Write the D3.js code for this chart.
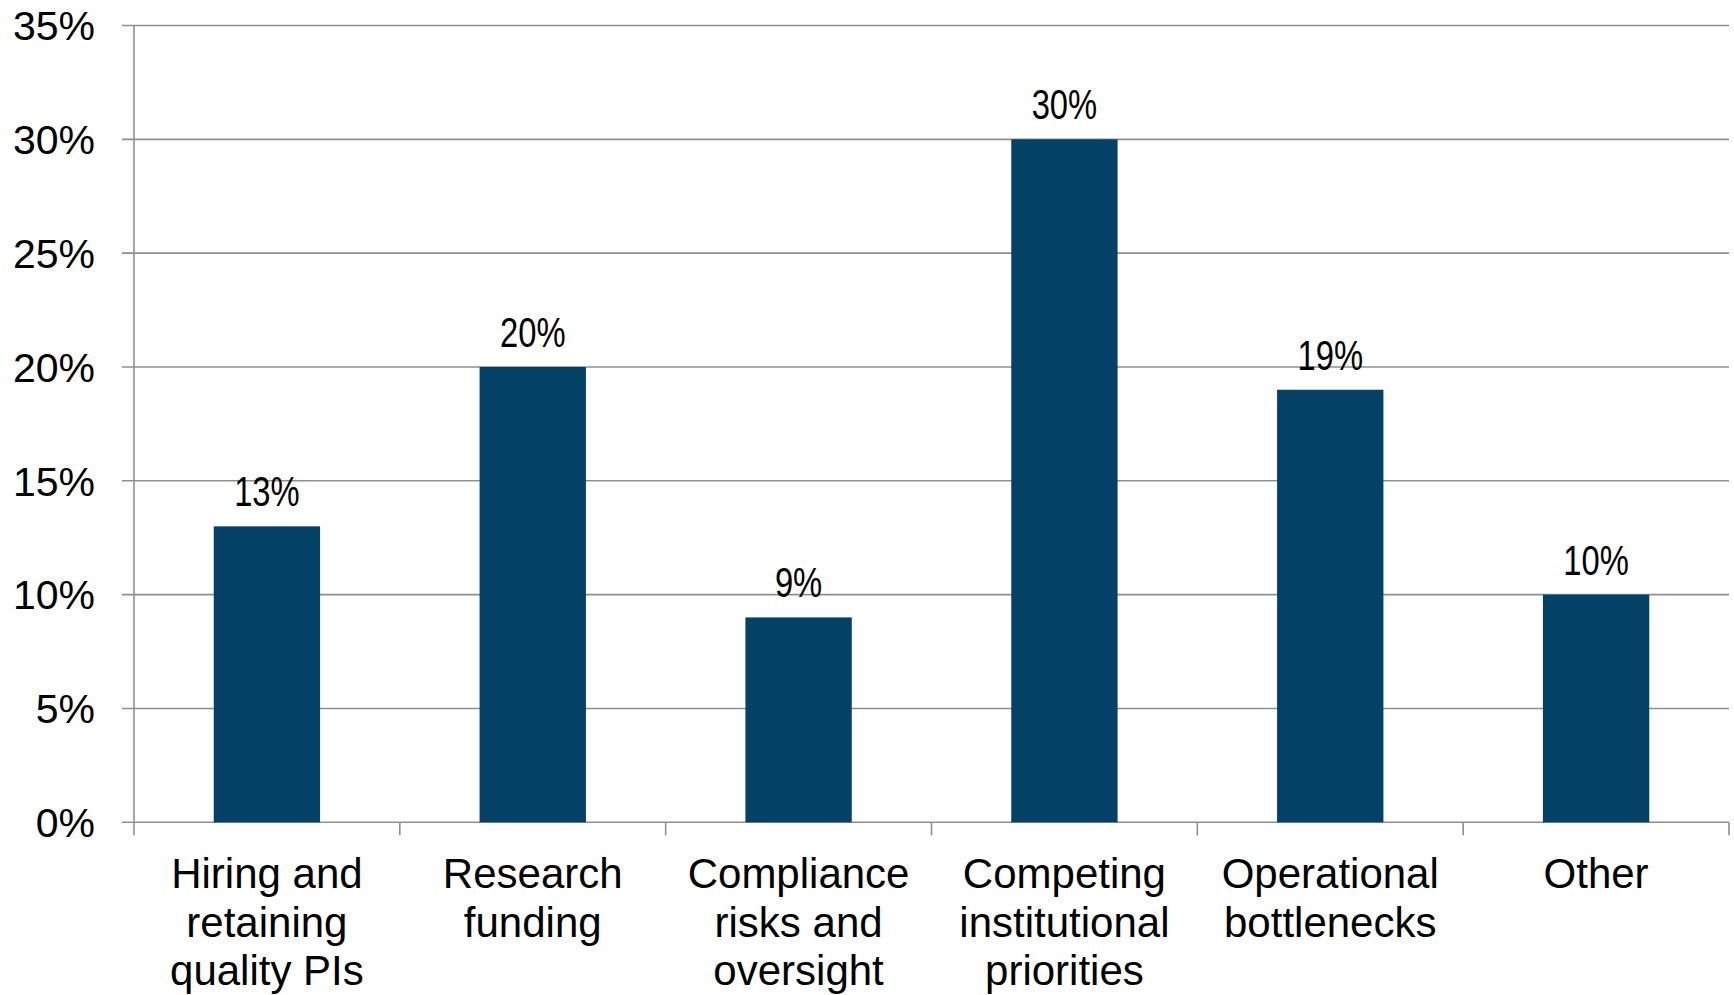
<!DOCTYPE html>
<html>
<head>
<meta charset="utf-8">
<script src="https://cdn.jsdelivr.net/npm/d3@7"></script>
<style>
  html, body { margin: 0; padding: 0; background: #fff; }
  svg { display: block; }
</style>
</head>
<body>
<svg id="chart" width="1734" height="995"></svg>
<script>
const categories = [
  ["Hiring and", "retaining", "quality PIs"],
  ["Research", "funding"],
  ["Compliance", "risks and", "oversight"],
  ["Competing", "institutional", "priorities"],
  ["Operational", "bottlenecks"],
  ["Other"]
];
const values = [0.13, 0.20, 0.09, 0.30, 0.19, 0.10];
const valueLabels = ["13%", "20%", "9%", "30%", "19%", "10%"];
const yTicks = [0, 0.05, 0.10, 0.15, 0.20, 0.25, 0.30, 0.35];

(function () {
const svg = d3.select("#chart");
const plotLeft = 134, plotRight = 1729, plotTop = 25.5, plotBottom = 822.3;
const gridColor = "#8f8f8f";
const barColor = "#034166";

const keys = categories.map((c, i) => i);
const x = d3.scaleBand().domain(keys).range([plotLeft, plotRight]).paddingInner(0.6).paddingOuter(0.3);
const xEdge = d3.scaleLinear().domain([0, categories.length]).range([plotLeft, plotRight]);
const y = d3.scaleLinear().domain([0, 0.35]).range([plotBottom, plotTop]);

// gridlines
svg.append("g").selectAll("line").data(yTicks).join("line")
  .attr("x1", plotLeft - 12).attr("x2", plotRight)
  .attr("y1", d => y(d)).attr("y2", d => y(d))
  .attr("stroke", gridColor).attr("stroke-width", 1.6);

// y axis line
svg.append("line").attr("x1", plotLeft).attr("x2", plotLeft)
  .attr("y1", plotTop).attr("y2", plotBottom + 13)
  .attr("stroke", gridColor).attr("stroke-width", 1.6);

// x ticks at category boundaries
svg.append("g").selectAll("line").data(d3.range(1, categories.length + 1)).join("line")
  .attr("x1", d => xEdge(d)).attr("x2", d => xEdge(d))
  .attr("y1", plotBottom).attr("y2", plotBottom + 13)
  .attr("stroke", gridColor).attr("stroke-width", 1.6);

// y labels
svg.append("g").selectAll("text").data(yTicks).join("text")
  .attr("x", 95).attr("y", d => y(d)).attr("dy", "0.36em")
  .attr("text-anchor", "end")
  .attr("font-family", "'Liberation Sans', Arial, sans-serif")
  .attr("font-size", 41).attr("fill", "#000")
  .text(d => Math.round(d * 100) + "%");

// bars
svg.append("g").selectAll("rect").data(values).join("rect")
  .attr("x", (d, i) => x(i)).attr("width", x.bandwidth())
  .attr("y", d => y(d)).attr("height", d => y(0) - y(d))
  .attr("fill", barColor);

// value labels (condensed)
svg.append("g").selectAll("text").data(values).join("text")
  .attr("transform", (d, i) => `translate(${x(i) + x.bandwidth() / 2},${y(d) - 20}) scale(0.78,1)`)
  .attr("text-anchor", "middle")
  .attr("font-family", "'Liberation Sans', Arial, sans-serif")
  .attr("font-size", 42).attr("fill", "#000")
  .text((d, i) => valueLabels[i]);

// category labels
const cat = svg.append("g").selectAll("text").data(categories).join("text")
  .attr("x", (d, i) => x(i) + x.bandwidth() / 2)
  .attr("y", 888)
  .attr("text-anchor", "middle")
  .attr("font-family", "'Liberation Sans', Arial, sans-serif")
  .attr("font-size", 42).attr("fill", "#000");
cat.selectAll("tspan").data(d => d).join("tspan")
  .attr("x", function () { return d3.select(this.parentNode).attr("x"); })
  .attr("dy", (d, j) => j === 0 ? 0 : 48.5)
  .text(d => d);
})();
</script>
</body>
</html>
